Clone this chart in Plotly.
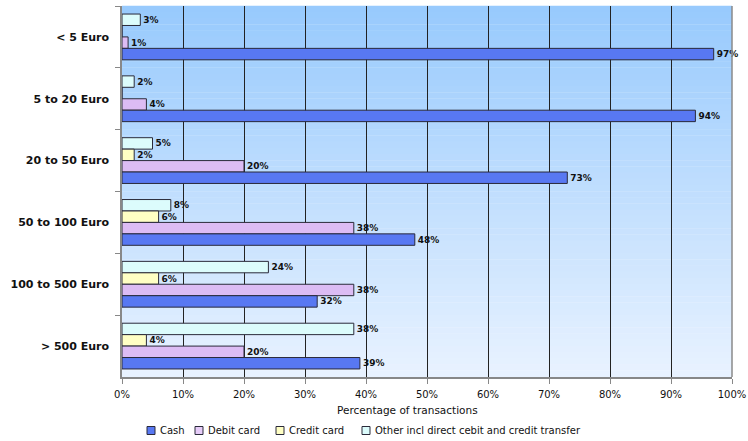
import plotly.graph_objects as go

# Transaction size bands (top to bottom)
bands = ["< 5 Euro", "5 to 20 Euro", "20 to 50 Euro", "50 to 100 Euro",
         "100 to 500 Euro", "> 500 Euro"]

# Share of transactions (%) by payment instrument
cash = [97, 94, 73, 48, 32, 39]
debit_card = [1, 4, 20, 38, 38, 20]
credit_card = [0, 0, 2, 6, 6, 4]
other = [3, 2, 5, 8, 24, 38]

x_ticks = list(range(0, 101, 10))
x_tick_labels = [f"{v}%" for v in x_ticks]
x_title = "Percentage of transactions"

# name, values, fill colour (drawn top to bottom within each band)
series = [
    ("Other incl direct cebit and credit transfer", other, "#dcfcfc"),
    ("Credit card", credit_card, "#ffffc4"),
    ("Debit card", debit_card, "#dcbcf4"),
    ("Cash", cash, "#5878f2"),
]
OUTLINE = "#2a2a3a"

fig = go.Figure()
for name, vals, color in series:
    fig.add_trace(go.Bar(
        y=bands, x=vals, name=name, orientation="h",
        marker=dict(color=color, line=dict(color=OUTLINE, width=1)),
        text=[f"{v}%" if v > 0 else "" for v in vals],
        textposition="outside",
        textfont=dict(family="DejaVu Sans", size=9, color="#111111", weight="bold"),
        cliponaxis=False,
        showlegend=False,
    ))

# Vertical gradient behind the bars (light blue at the top fading to near white)
top = (152, 202, 253)
bottom = (232, 242, 255)
steps = 60
shapes = []
for i in range(steps):
    t = i / (steps - 1)
    r = round(top[0] + (bottom[0] - top[0]) * t)
    g = round(top[1] + (bottom[1] - top[1]) * t)
    b = round(top[2] + (bottom[2] - top[2]) * t)
    shapes.append(dict(
        type="rect", xref="x domain", yref="y domain",
        x0=0, x1=1, y0=1 - (i + 1) / steps, y1=1 - i / steps + 0.001,
        fillcolor=f"rgb({r},{g},{b})", line=dict(width=0), layer="below",
    ))
shapes.append(dict(type="line", xref="x domain", yref="y domain",
                   x0=1, x1=1, y0=0, y1=1, line=dict(color="#8a8a8a", width=1.5)))

# Page layout in pixels
W, H = 748, 441
PLOT_LEFT, PLOT_RIGHT, PLOT_TOP, PLOT_BOTTOM = 122, 732, 6, 377
PLOT_W = PLOT_RIGHT - PLOT_LEFT
PLOT_H = PLOT_BOTTOM - PLOT_TOP


def px_x(px):
    return (px - PLOT_LEFT) / PLOT_W


def px_y(py):
    return (PLOT_BOTTOM - py) / PLOT_H


annotations = [dict(
    xref="paper", yref="paper", x=px_x(407), y=px_y(410), text=x_title,
    showarrow=False, xanchor="center", yanchor="middle",
    font=dict(size=10.5, color="#111111"),
)]

# Legend row below the axis title: small outlined swatches followed by labels
legend_items = [
    ("Cash", "#5878f2", 147),
    ("Debit card", "#e6ccf8", 195),
    ("Credit card", "#ffffc4", 276),
    ("Other incl direct cebit and credit transfer", "#dcfcfc", 362),
]
legend_y_px = 430.5
for label, color, px in legend_items:
    shapes.append(dict(type="rect", xref="paper", yref="paper",
                       x0=px_x(px), x1=px_x(px + 8),
                       y0=px_y(legend_y_px + 4), y1=px_y(legend_y_px - 4),
                       fillcolor=color, line=dict(color=OUTLINE, width=1)))
    annotations.append(dict(
        xref="paper", yref="paper", x=px_x(px + 11), y=px_y(legend_y_px),
        text=label, showarrow=False, xanchor="left", yanchor="middle",
        font=dict(size=10, color="#111111"),
    ))

fig.update_layout(
    width=W, height=H,
    margin=dict(l=PLOT_LEFT, r=W - PLOT_RIGHT, t=PLOT_TOP, b=H - PLOT_BOTTOM,
                autoexpand=False),
    paper_bgcolor="white",
    plot_bgcolor="white",
    barmode="group",
    bargap=0.26,
    bargroupgap=0,
    shapes=shapes,
    annotations=annotations,
    font=dict(family="DejaVu Sans", size=9, color="#111111"),
    showlegend=False,
)

fig.update_xaxes(
    range=[0, 100], tickvals=x_ticks, ticktext=x_tick_labels,
    showgrid=True, gridcolor="#222222", gridwidth=1,
    ticks="outside", ticklen=5, tickcolor="#888888",
    showline=True, linecolor="#888888", linewidth=1.5,
    zeroline=False,
    tickfont=dict(size=10),
    ticklabelstandoff=2,
)
fig.update_yaxes(
    categoryorder="array", categoryarray=bands, autorange="reversed",
    tickson="boundaries", ticks="outside", ticklen=5, tickcolor="#888888",
    showline=True, linecolor="#888888", linewidth=1.5,
    showgrid=False,
    tickfont=dict(size=11, family="DejaVu Sans", weight="bold"),
    ticklabelstandoff=9,
)

fig.write_html("out.html")
